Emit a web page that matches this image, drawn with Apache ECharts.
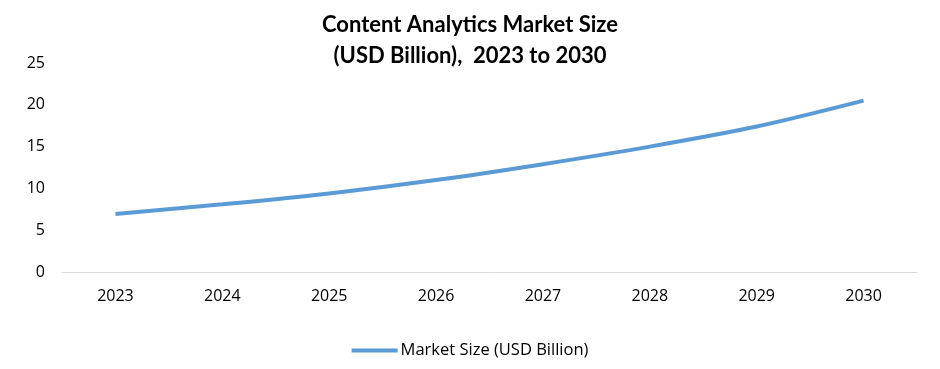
<!DOCTYPE html>
<html>
<head>
<meta charset="utf-8">
<script src="https://cdn.jsdelivr.net/npm/echarts@6/dist/echarts.min.js"></script>
<style>html,body{margin:0;padding:0;background:#fff}#c{width:940px;height:369px}</style>
</head>
<body>
<div id="c"></div>
<script>
const titleLines = ['Content Analytics Market Size', '(USD Billion),  2023 to 2030'];
const categories = ['2023', '2024', '2025', '2026', '2027', '2028', '2029', '2030'];
const seriesName = 'Market Size (USD Billion)';
const marketSize = [6.95, 8.1, 9.4, 11.0, 12.9, 15.0, 17.4, 20.5];
const yTicks = [0, 5, 10, 15, 20, 25];

const chart = echarts.init(document.getElementById('c'), null, {renderer: 'canvas'});
chart.setOption({
  animation: false,
  backgroundColor: '#ffffff',
  title: {
    text: titleLines.join('\n'),
    left: 'center',
    top: 4,
    textStyle: {fontFamily: 'Lato', fontWeight: 'bold', fontSize: 22, color: '#000', lineHeight: 31}
  },
  legend: {
    bottom: 5,
    left: 'center',
    data: [seriesName],
    icon: 'rect',
    itemWidth: 46,
    itemHeight: 4,
    itemGap: 4,
    textStyle: {fontFamily: 'Open Sans', fontSize: 16.5, color: '#000', padding: [0, 0, 0, -2]}
  },
  grid: {left: 62, right: 23, top: 63, bottom: 97, containLabel: false},
  xAxis: {
    type: 'category',
    data: categories,
    boundaryGap: true,
    axisLine: {lineStyle: {color: '#d9d9d9', width: 1}},
    axisTick: {show: false},
    axisLabel: {fontFamily: 'Open Sans', fontSize: 16, color: '#000', margin: 16}
  },
  yAxis: {
    type: 'value',
    min: yTicks[0],
    max: yTicks[yTicks.length - 1],
    interval: yTicks[1] - yTicks[0],
    axisLine: {show: false},
    axisTick: {show: false},
    splitLine: {show: false},
    axisLabel: {fontFamily: 'Open Sans', fontSize: 16, color: '#000', margin: 17}
  },
  series: [{
    name: seriesName,
    type: 'line',
    data: marketSize,
    smooth: 0.3,
    showSymbol: false,
    symbol: 'none',
    lineStyle: {color: '#5b9bd5', width: 4},
    itemStyle: {color: '#5b9bd5'}
  }]
});
</script>
</body>
</html>
